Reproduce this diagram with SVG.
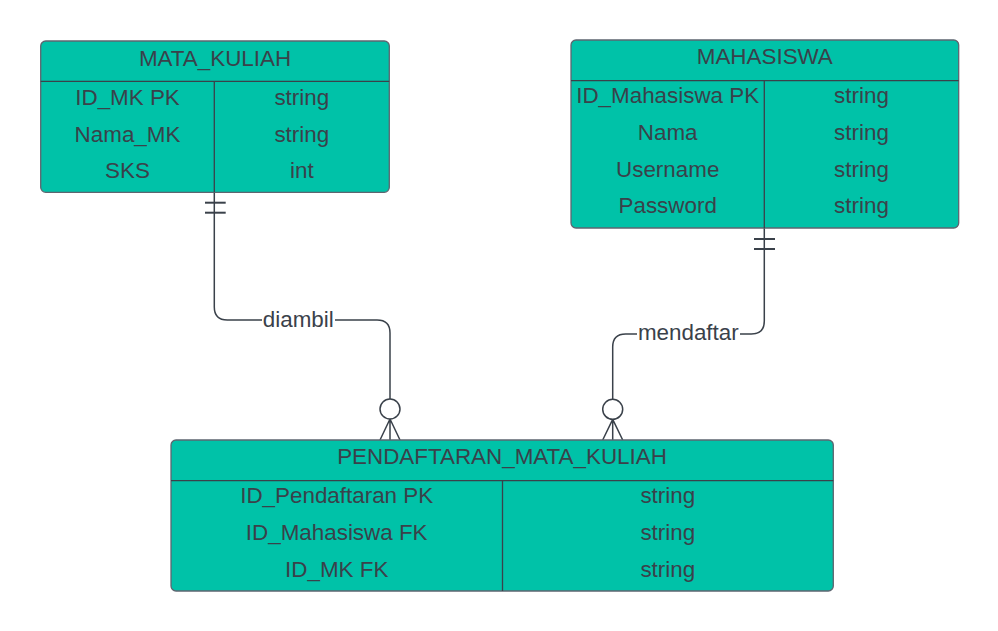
<svg xmlns="http://www.w3.org/2000/svg" width="998" height="631" viewBox="0 0 998 631">
<style>
.box{fill:#00c2a8;stroke:#5e6570;stroke-width:1.3}
.ln{stroke:#3a414a;stroke-width:1.3;fill:none}
.t{font-family:"Liberation Sans",Arial,sans-serif;font-size:22.4px;fill:#3a414a;text-anchor:middle}
.c{stroke:#3a414a;stroke-width:1.5;fill:none}
.cb{stroke:#3a414a;stroke-width:2;fill:none}
</style>
<rect width="998" height="631" fill="#ffffff"/>
<g id="connectors">
  <g id="diambil">
    <path class="c" d="M214.3,192 V307 Q214.3,320 227.3,320 H377 Q390,320 390,333 V399"/>
    <line class="cb" x1="205" y1="202.7" x2="225.7" y2="202.7"/>
    <line class="cb" x1="205" y1="212.7" x2="225.7" y2="212.7"/>
    <circle class="c" cx="390" cy="409" r="10" fill="#ffffff"/>
    <path class="c" d="M390,419 V440 M390,419 L380,440 M390,419 L400,440"/>
    <rect x="262" y="306" width="73" height="26" fill="#ffffff"/>
    <text class="t" x="298.3" y="327">diambil</text>
  </g>
  <g id="mendaftar">
    <path class="c" d="M764.3,228 V321 Q764.3,334 751.3,334 H625.7 Q612.7,334 612.7,347 V399"/>
    <line class="cb" x1="754" y1="239" x2="775" y2="239"/>
    <line class="cb" x1="754" y1="249" x2="775" y2="249"/>
    <circle class="c" cx="612.7" cy="409.3" r="10" fill="#ffffff"/>
    <path class="c" d="M612.7,419.3 V440 M612.7,419.3 L602.7,440 M612.7,419.3 L622.7,440"/>
    <rect x="637" y="320" width="103" height="26" fill="#ffffff"/>
    <text class="t" x="688.3" y="340">mendaftar</text>
  </g>
</g>
<g id="mata_kuliah">
  <rect class="box" x="40.7" y="41" width="348.6" height="151.3" rx="5"/>
  <line class="ln" x1="40.7" y1="81.3" x2="389.3" y2="81.3"/>
  <line class="ln" x1="214.3" y1="81.3" x2="214.3" y2="192.3"/>
  <text class="t" x="215" y="66">MATA_KULIAH</text>
  <text class="t" x="127.5" y="105">ID_MK PK</text>
  <text class="t" x="127.5" y="141.5">Nama_MK</text>
  <text class="t" x="127.5" y="178">SKS</text>
  <text class="t" x="301.8" y="105">string</text>
  <text class="t" x="301.8" y="141.5">string</text>
  <text class="t" x="301.8" y="178">int</text>
</g>
<g id="mahasiswa">
  <rect class="box" x="571" y="40" width="387.7" height="188" rx="5"/>
  <line class="ln" x1="571" y1="80.7" x2="958.7" y2="80.7"/>
  <line class="ln" x1="764.3" y1="80.7" x2="764.3" y2="228"/>
  <text class="t" x="764.8" y="64.3">MAHASISWA</text>
  <text class="t" x="667.7" y="103.3">ID_Mahasiswa PK</text>
  <text class="t" x="667.7" y="140">Nama</text>
  <text class="t" x="667.7" y="176.7">Username</text>
  <text class="t" x="667.7" y="213.3">Password</text>
  <text class="t" x="861.5" y="103.3">string</text>
  <text class="t" x="861.5" y="140">string</text>
  <text class="t" x="861.5" y="176.7">string</text>
  <text class="t" x="861.5" y="213.3">string</text>
</g>
<g id="pendaftaran_mata_kuliah">
  <rect class="box" x="171" y="440" width="662.3" height="151" rx="5"/>
  <line class="ln" x1="171" y1="480.7" x2="833.3" y2="480.7"/>
  <line class="ln" x1="502.5" y1="480.7" x2="502.5" y2="591"/>
  <text class="t" x="502" y="464.3">PENDAFTARAN_MATA_KULIAH</text>
  <text class="t" x="336.7" y="503.3">ID_Pendaftaran PK</text>
  <text class="t" x="336.7" y="540">ID_Mahasiswa FK</text>
  <text class="t" x="336.7" y="576.7">ID_MK FK</text>
  <text class="t" x="667.8" y="503.3">string</text>
  <text class="t" x="667.8" y="540">string</text>
  <text class="t" x="667.8" y="576.7">string</text>
</g>
</svg>
